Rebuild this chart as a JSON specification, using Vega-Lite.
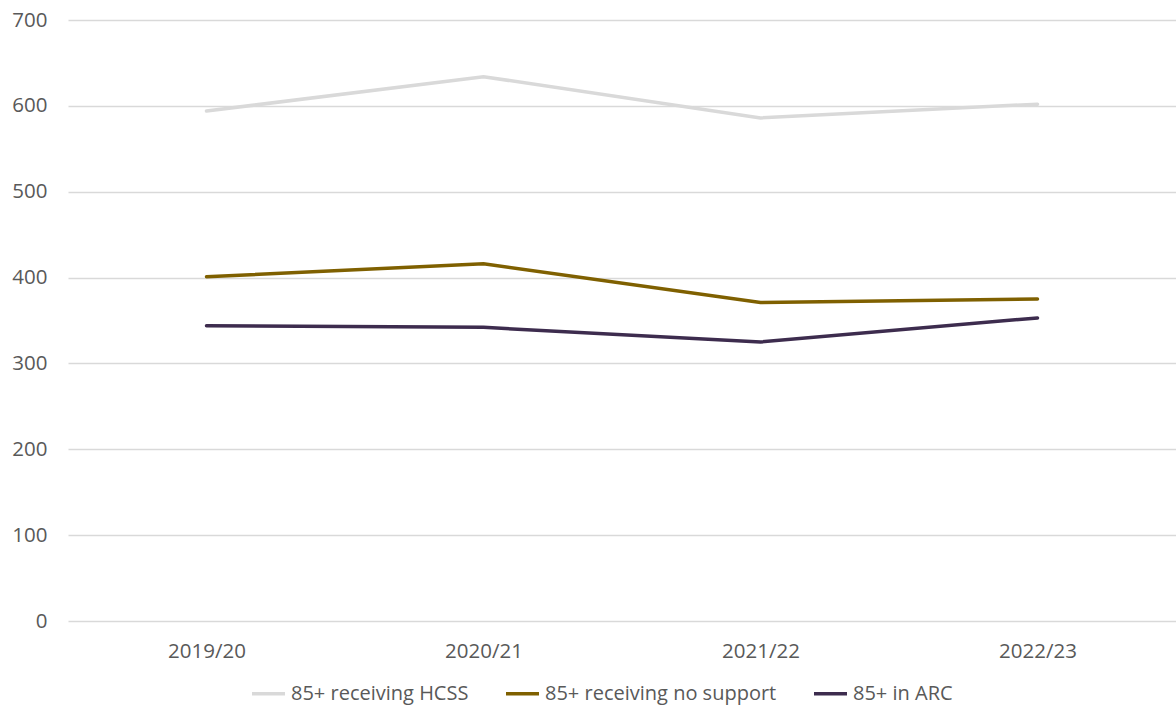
{
  "$schema": "https://vega.github.io/schema/vega-lite/v6.json",
  "width": 1108,
  "height": 601,
  "autosize": "none",
  "padding": {"left": 68, "top": 20, "right": 0, "bottom": 86},
  "background": "white",
  "config": {
    "font": "Open Sans",
    "view": {"stroke": null},
    "axis": {"labelFont": "Open Sans", "labelColor": "#595959", "labelFontSize": 20.5, "domain": false, "ticks": false, "title": null}
  },
  "data": {
    "values": [
      {"year": "2019/20", "series": "85+ receiving HCSS", "value": 594},
      {"year": "2020/21", "series": "85+ receiving HCSS", "value": 634},
      {"year": "2021/22", "series": "85+ receiving HCSS", "value": 586},
      {"year": "2022/23", "series": "85+ receiving HCSS", "value": 602},
      {"year": "2019/20", "series": "85+ receiving no support", "value": 401},
      {"year": "2020/21", "series": "85+ receiving no support", "value": 416},
      {"year": "2021/22", "series": "85+ receiving no support", "value": 371},
      {"year": "2022/23", "series": "85+ receiving no support", "value": 375},
      {"year": "2019/20", "series": "85+ in ARC", "value": 344},
      {"year": "2020/21", "series": "85+ in ARC", "value": 342},
      {"year": "2021/22", "series": "85+ in ARC", "value": 325},
      {"year": "2022/23", "series": "85+ in ARC", "value": 353}
    ]
  },
  "mark": {"type": "line", "strokeWidth": 3.5, "strokeCap": "round"},
  "encoding": {
    "x": {
      "field": "year", "type": "ordinal",
      "scale": {"type": "point", "padding": 0.5},
      "axis": {"labelAngle": 0, "labelPadding": 20, "grid": false}
    },
    "y": {
      "field": "value", "type": "quantitative",
      "scale": {"domain": [0, 700], "nice": false},
      "axis": {"values": [0, 100, 200, 300, 400, 500, 600, 700], "labelPadding": 21, "grid": true, "gridColor": "#d9d9d9", "gridWidth": 1.3}
    },
    "color": {
      "field": "series", "type": "nominal",
      "sort": ["85+ receiving HCSS", "85+ receiving no support", "85+ in ARC"],
      "scale": {"domain": ["85+ receiving HCSS", "85+ receiving no support", "85+ in ARC"], "range": ["#d9d9d9", "#7f6000", "#3d2c4e"]},
      "legend": {
        "title": null, "orient": "none", "direction": "horizontal",
        "legendX": 182, "legendY": 655,
        "symbolType": "stroke", "symbolSize": 1089, "symbolStrokeWidth": 3.5,
        "labelFont": "Open Sans", "labelFontSize": 20, "labelColor": "#595959",
        "labelOffset": 4, "columnPadding": 30, "labelLimit": 400
      }
    }
  }
}
